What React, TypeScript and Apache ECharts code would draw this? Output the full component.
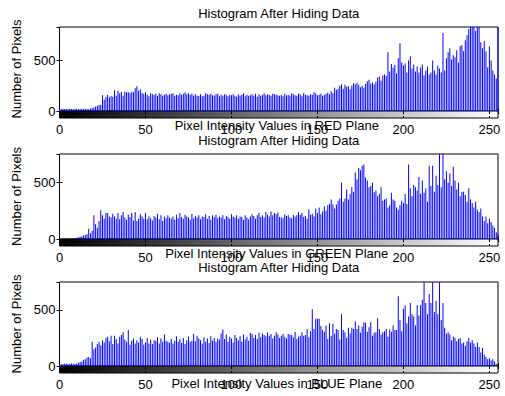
import React, { useEffect, useRef } from "react";
import * as echarts from "echarts";

const intensities: number[] = Array.from({ length: 256 }, (_, i) => i);

const redCounts: number[] = [
  22, 20, 21, 19, 20, 22, 21, 20, 19, 20, 21, 20, 19, 22, 20, 21,
  20, 18, 24, 30, 35, 45, 50, 60, 62, 155, 110, 140, 160, 135, 150, 140,
  205, 150, 200, 175, 190, 150, 190, 185, 185, 175, 190, 185, 225, 245, 200, 215,
  175, 170, 185, 160, 145, 175, 165, 160, 170, 150, 175, 165, 150, 160, 170, 155,
  165, 170, 175, 150, 160, 155, 175, 160, 170, 185, 165, 175, 160, 170, 150, 165,
  150, 150, 165, 145, 150, 175, 165, 160, 170, 155, 150, 165, 170, 145, 160, 150,
  165, 160, 145, 160, 155, 165, 150, 140, 165, 150, 160, 175, 145, 160, 150, 155,
  165, 150, 170, 140, 165, 150, 160, 175, 155, 165, 160, 150, 170, 165, 160, 155,
  150, 160, 145, 170, 155, 160, 150, 175, 165, 155, 150, 170, 165, 145, 175, 160,
  155, 150, 165, 160, 185, 175, 155, 160, 170, 150, 160, 170, 180, 165, 195, 175,
  230, 210, 220, 250, 265, 220, 260, 240, 245, 215, 250, 275, 265, 280, 260, 235,
  250, 230, 270, 295, 310, 270, 285, 265, 290, 330, 340, 300, 350, 360, 345, 580,
  390, 465, 430, 455, 370, 520, 670, 480, 450, 470, 380, 500, 540, 420, 460, 390,
  440, 380, 430, 460, 350, 400, 440, 360, 380, 500, 400, 360, 450, 420, 380, 770,
  400, 520, 580, 620, 510, 550, 530, 600, 480, 640, 650, 590, 700, 750, 810, 830,
  870, 830, 790, 920, 840, 680, 620, 690, 590, 430, 640, 500, 400, 360, 320, 1000,
];

const greenCounts: number[] = [
  0, 0, 0, 0, 0, 0, 0, 0, 0, 4, 10, 15, 20, 25, 30, 35,
  45, 90, 50, 70, 210, 130, 100, 160, 255, 210, 180, 230, 230, 200, 190, 225,
  200, 180, 230, 175, 210, 240, 190, 170, 215, 195, 230, 165, 240, 160, 180, 220,
  200, 180, 230, 175, 200, 185, 165, 205, 190, 225, 175, 210, 160, 200, 185, 210,
  190, 180, 200, 170, 215, 185, 230, 195, 180, 215, 200, 190, 170, 225, 185, 205,
  190, 210, 175, 200, 195, 220, 180, 205, 170, 210, 195, 215, 185, 200, 190, 210,
  175, 205, 195, 180, 220, 200, 190, 210, 180, 200, 195, 170, 210, 190, 175, 200,
  220, 205, 180, 210, 230, 195, 210, 190, 240, 215, 200, 245, 210, 230, 220, 235,
  195, 190, 185, 220, 205, 210, 190, 185, 215, 200, 210, 240, 215, 230, 195, 205,
  180, 265, 215, 225, 200, 270, 230, 280, 220, 245, 290, 250, 300, 310, 350, 305,
  270, 305, 340, 360, 500, 330, 360, 440, 350, 400, 460, 420, 590, 530, 630, 610,
  650, 660, 545, 520, 460, 470, 500, 415, 430, 380, 400, 460, 340, 350, 360, 280,
  300, 410, 350, 340, 280, 260, 300, 340, 320, 400, 310, 660, 450, 380, 480, 460,
  430, 550, 400, 520, 410, 450, 330, 650, 470, 650, 420, 560, 480, 780, 460, 760,
  530, 600, 500, 580, 470, 640, 520, 440, 500, 380, 420, 420, 390, 330, 450, 350,
  320, 280, 330, 260, 240, 270, 200, 160, 200, 140, 180, 150, 120, 100, 60, 40,
];

const blueCounts: number[] = [
  20, 15, 18, 20, 22, 18, 20, 22, 20, 18, 22, 30, 35, 40, 55, 60,
  75, 80, 70, 215, 150, 165, 195, 215, 185, 230, 210, 250, 260, 220, 270, 195,
  270, 240, 200, 260, 275, 300, 235, 215, 320, 190, 225, 245, 200, 230, 210, 260,
  240, 190, 210, 250, 200, 235, 195, 230, 225, 255, 200, 245, 215, 280, 225, 215,
  210, 240, 200, 225, 265, 215, 240, 205, 250, 195, 230, 260, 215, 225, 285, 220,
  270, 245, 230, 200, 255, 215, 245, 205, 265, 225, 250, 215, 245, 235, 290, 325,
  240, 280, 215, 260, 245, 210, 275, 250, 230, 265, 215, 280, 235, 260, 225, 295,
  285, 250, 275, 240, 295, 255, 290, 275, 265, 300, 270, 285, 245, 270, 300, 280,
  250, 270, 285, 260, 245, 285, 280, 275, 255, 305, 240, 260, 270, 300, 270, 275,
  330, 255, 310, 505, 330, 420, 420, 420, 355, 320, 305, 360, 240, 380, 270, 375,
  290, 330, 320, 235, 460, 320, 300, 250, 340, 290, 340, 330, 395, 330, 360, 295,
  350, 390, 385, 305, 345, 390, 270, 295, 300, 425, 330, 280, 300, 310, 330, 260,
  325, 305, 360, 320, 320, 620, 410, 310, 510, 540, 380, 440, 560, 460, 440, 360,
  540, 450, 540, 590, 760, 560, 460, 640, 560, 800, 480, 580, 460, 790, 410, 560,
  340, 290, 300, 280, 230, 260, 250, 220, 240, 250, 200, 210, 180, 220, 250, 210,
  230, 200, 170, 210, 170, 120, 160, 100, 80, 60, 70, 50, 60, 40, 20, 0,
];

const planeNames: string[] = ["RED", "GREEN", "BLUE"];
const yMaxes: number[] = [830, 754, 747];
const titleText = "Histogram After Hiding Data";
const yLabelText = "Number of Pixels";

export default function App() {
  const ref = useRef<HTMLDivElement>(null);
  useEffect(() => {
    if (!ref.current) return;
    const chart = echarts.init(ref.current, undefined, { renderer: "svg" });
    const font = "Liberation Sans, Arial, Helvetica, sans-serif";
    const fs = 13;
    const left = 59.5;
    const width = 438.5;
    const stemTops = [27, 154, 282];
    const stemHeights = [84, 85, 84];
    const cbH = 7;
    const titleY = [13, 140, 267];
    const xLabelY = [125, 253, 383];
    const allCounts = [redCounts, greenCounts, blueCounts];

    const grid: any[] = [];
    const xAxis: any[] = [];
    const yAxis: any[] = [];
    const series: any[] = [];
    const graphic: any[] = [];

    for (let p = 0; p < 3; p++) {
      grid.push({
        left, width, top: stemTops[p], height: stemHeights[p],
        show: true, borderColor: "#000", borderWidth: 1, backgroundColor: "#fff",
      });
      grid.push({
        left, width, top: stemTops[p] + stemHeights[p], height: cbH,
        show: true, borderColor: "#000", borderWidth: 1,
        backgroundColor: new echarts.graphic.LinearGradient(0, 0, 1, 0, [
          { offset: 0, color: "#000" },
          { offset: 1, color: "#fff" },
        ]),
      });
      const baseX = {
        type: "value", min: 0, max: 255, interval: 50,
        axisLine: { show: false }, splitLine: { show: false },
        axisTick: { inside: true, length: 3, lineStyle: { color: "#000" } },
        axisLabel: { show: false },
      };
      xAxis.push({ ...baseX, gridIndex: 2 * p, position: "bottom" });
      xAxis.push({ ...baseX, gridIndex: 2 * p, position: "top" });
      xAxis.push({
        ...baseX, gridIndex: 2 * p + 1, position: "bottom",
        axisTick: { inside: true, length: 2, lineStyle: { color: "#000" } },
        axisLabel: {
          show: true, color: "#000", fontSize: fs, fontFamily: font, margin: 5,
          showMaxLabel: false,
        },
      });
      xAxis.push({
        ...baseX, gridIndex: 2 * p + 1, position: "top",
        axisTick: { inside: true, length: 2, lineStyle: { color: "#000" } },
      });
      const baseY = {
        type: "value", min: 0, max: yMaxes[p], interval: 500,
        axisLine: { show: false }, splitLine: { show: false },
        axisTick: { inside: true, length: 3, lineStyle: { color: "#000" } },
      };
      yAxis.push({
        ...baseY, gridIndex: 2 * p, position: "left",
        axisLabel: {
          show: true, color: "#000", fontSize: fs, fontFamily: font, margin: 4,
          showMaxLabel: false,
        },
        name: yLabelText, nameLocation: "middle", nameGap: 29,
        nameTextStyle: { color: "#000", fontSize: fs, fontFamily: font },
      });
      yAxis.push({
        ...baseY, gridIndex: 2 * p, position: "right",
        axisLabel: { show: false },
      });
      yAxis.push({ type: "value", gridIndex: 2 * p + 1, min: 0, max: 1, show: false });

      series.push({
        type: "bar",
        xAxisIndex: 4 * p,
        yAxisIndex: 3 * p,
        barWidth: 1,
        itemStyle: { color: "#0000ff" },
        data: intensities.map((x, i) => [x, allCounts[p][i]]),
        clip: true,
        silent: true,
      });

      graphic.push({
        type: "text", x: left + width / 2, y: titleY[p],
        style: {
          text: titleText, fill: "#000", font: `${fs}px ${font}`,
          textAlign: "center", textVerticalAlign: "middle",
        },
      });
      graphic.push({
        type: "text", x: left + width / 2 - 2, y: xLabelY[p],
        style: {
          text: `Pixel Intensity Values in ${planeNames[p]} Plane`, fill: "#000",
          font: `${fs}px ${font}`, textAlign: "center", textVerticalAlign: "middle",
        },
        z: 100,
      });
    }

    chart.setOption({
      animation: false,
      backgroundColor: "#fff",
      grid, xAxis, yAxis, series, graphic,
    });
    return () => chart.dispose();
  }, []);
  return (
    <div
      ref={ref}
      style={{ position: "absolute", left: 0, top: 0, width: 505, height: 396 }}
    />
  );
}
